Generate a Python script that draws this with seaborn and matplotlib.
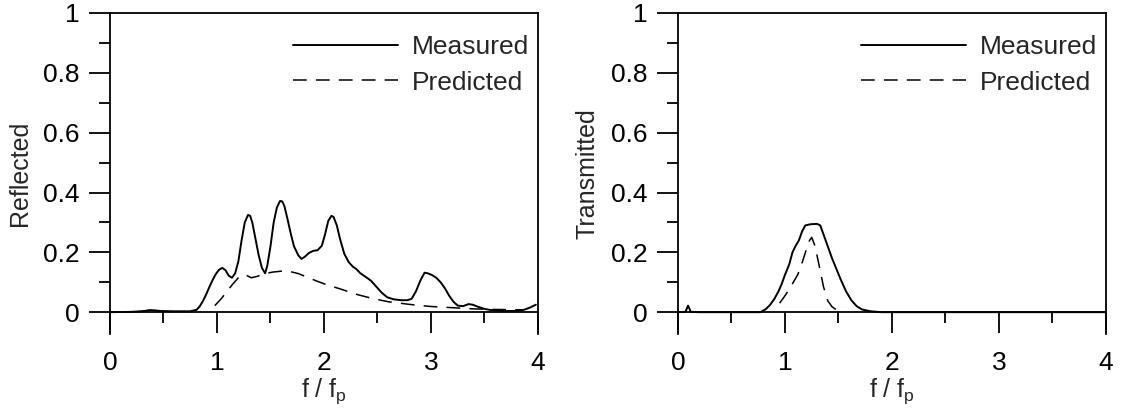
import numpy as np
import matplotlib
matplotlib.use("Agg")
import matplotlib.pyplot as plt
import seaborn as sns
from matplotlib.ticker import MultipleLocator

# values
refl_meas_x = [0.0, 0.2, 0.32, 0.37, 0.42, 0.47, 0.6, 0.75, 0.81, 0.84, 0.87, 0.9, 0.93, 0.96, 0.99,
               1.02, 1.05, 1.08, 1.11, 1.14, 1.17, 1.2, 1.23, 1.26, 1.29, 1.31, 1.33, 1.36, 1.39,
               1.42, 1.45, 1.47, 1.5, 1.53, 1.56, 1.59, 1.61, 1.63, 1.66, 1.69, 1.72, 1.76,
               1.79, 1.82, 1.86, 1.9, 1.94, 1.98, 2.01, 2.04, 2.07, 2.09, 2.12, 2.15, 2.19,
               2.23, 2.27, 2.3, 2.34, 2.39, 2.44, 2.49, 2.54, 2.59, 2.65, 2.72, 2.78, 2.82,
               2.86, 2.9, 2.94, 2.97, 3.01, 3.05, 3.09, 3.13, 3.17, 3.21, 3.25, 3.3, 3.35,
               3.39, 3.44, 3.5, 3.56, 3.65, 3.8, 3.87, 3.93, 3.98]
refl_meas_y = [0.0, 0.001, 0.004, 0.007, 0.006, 0.004, 0.003, 0.003, 0.008, 0.02, 0.038, 0.06, 0.085, 0.108, 0.128,
               0.142, 0.148, 0.14, 0.122, 0.115, 0.13, 0.17, 0.24, 0.3, 0.325, 0.322, 0.3, 0.245, 0.19,
               0.148, 0.13, 0.155, 0.22, 0.3, 0.35, 0.372, 0.37, 0.355, 0.31, 0.262, 0.22, 0.19,
               0.178, 0.185, 0.198, 0.205, 0.207, 0.222, 0.26, 0.305, 0.322, 0.318, 0.29, 0.245, 0.195,
               0.168, 0.152, 0.145, 0.13, 0.118, 0.105, 0.085, 0.065, 0.05, 0.043, 0.04, 0.04, 0.045,
               0.07, 0.105, 0.132, 0.13, 0.124, 0.115, 0.1, 0.08, 0.055, 0.035, 0.022, 0.02, 0.027,
               0.025, 0.018, 0.011, 0.007, 0.004, 0.004, 0.008, 0.016, 0.025]
refl_pred_x = [0.98, 1.04, 1.09, 1.15, 1.2, 1.26, 1.32, 1.38, 1.44, 1.52, 1.6, 1.68, 1.76, 1.85, 1.94,
               2.03, 2.15, 2.3, 2.45, 2.6, 2.8, 3.0, 3.2, 3.4, 3.6, 3.85]
refl_pred_y = [0.022, 0.045, 0.068, 0.095, 0.115, 0.126, 0.115, 0.12, 0.128, 0.134, 0.137, 0.136, 0.129, 0.116, 0.103,
               0.091, 0.078, 0.06, 0.046, 0.035, 0.026, 0.019, 0.015, 0.011, 0.009, 0.008]

trans_meas_x = [0.0, 0.07, 0.094, 0.12, 0.2, 0.5, 0.77, 0.82, 0.86, 0.9, 0.94, 0.97, 1.0, 1.04, 1.07,
                1.1, 1.13, 1.16, 1.19, 1.24, 1.3, 1.33, 1.35, 1.38, 1.41, 1.44, 1.48, 1.52, 1.57,
                1.62, 1.67, 1.72, 1.8, 1.9, 4.0]
trans_meas_y = [0.0, 0.001, 0.022, 0.001, 0.0, 0.0, 0.0, 0.01, 0.024, 0.044, 0.07, 0.095, 0.125, 0.16, 0.2,
                0.222, 0.24, 0.27, 0.29, 0.294, 0.295, 0.29, 0.27, 0.24, 0.21, 0.18, 0.145, 0.11, 0.07,
                0.04, 0.02, 0.009, 0.003, 0.0, 0.0]
trans_pred_x = [0.95, 1.01, 1.07, 1.12, 1.16, 1.2, 1.23, 1.25, 1.28, 1.32, 1.36, 1.4, 1.44, 1.5]
trans_pred_y = [0.03, 0.06, 0.095, 0.126, 0.165, 0.21, 0.24, 0.25, 0.222, 0.155, 0.085, 0.038, 0.018, 0.003]

sns.set_style("ticks")
plt.rcParams['font.family'] = ['Liberation Sans', 'DejaVu Sans']
plt.rcParams['mathtext.default'] = 'regular'

fig = plt.figure(figsize=(11.21, 4.11), dpi=100)
ax1 = fig.add_axes([0.0981, 0.1873, 0.3818, 0.7811])
ax2 = fig.add_axes([0.6048, 0.1873, 0.3818, 0.7811])

panels = [
    (ax1, refl_meas_x, refl_meas_y, refl_pred_x, refl_pred_y, "Reflected"),
    (ax2, trans_meas_x, trans_meas_y, trans_pred_x, trans_pred_y, "Transmitted"),
]

for ax, mx, my, px, py, ylab in panels:
    sns.lineplot(x=mx, y=my, ax=ax, color='black', linewidth=1.4, label="Measured")
    sns.lineplot(x=px, y=py, ax=ax, color='black', linewidth=1.1, label="Predicted")
    ax.lines[1].set_dashes([9, 6])
    ax.set_xlim(0, 4)
    ax.set_ylim(-0.073, 1)
    ax.spines['bottom'].set_position(('data', 0))
    for s in ax.spines.values():
        s.set_linewidth(1.3)
        s.set_color('black')
    ax.xaxis.set_major_locator(MultipleLocator(1))
    ax.xaxis.set_minor_locator(MultipleLocator(0.5))
    ax.yaxis.set_minor_locator(MultipleLocator(0.1))
    ax.set_yticks([0, 0.2, 0.4, 0.6, 0.8, 1])
    ax.set_yticklabels(['0', '0.2', '0.4', '0.6', '0.8', '1'])
    ax.tick_params(which='major', direction='out', length=15, width=1.3, labelsize=19,
                   color='black', labelcolor='black')
    ax.tick_params(which='minor', direction='out', length=8, width=1.3, color='black')
    ax.tick_params(axis='y', which='major', pad=7)
    ax.tick_params(axis='x', which='major', pad=13)
    ax.set_xlabel("f / f$_p$", fontsize=18, labelpad=1)
    ax.set_ylabel(ylab, fontsize=18, labelpad=8)
    ax.legend(loc='upper right', bbox_to_anchor=(1.003, 0.965), frameon=False, fontsize=19,
              handlelength=4.0, handletextpad=0.5, labelspacing=0.45, borderaxespad=0)

fig.savefig("out.png", dpi=100)
